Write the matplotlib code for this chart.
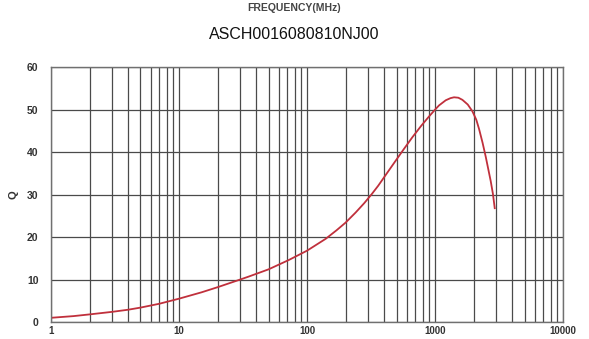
import matplotlib
matplotlib.use("Agg")
import matplotlib.pyplot as plt
from matplotlib.ticker import LogLocator, NullFormatter, FixedLocator, FixedFormatter

freq_mhz = [1, 1.5, 2, 3, 4, 5, 7, 10, 15, 20, 30, 35, 50, 72, 100, 140, 170, 200, 240, 280,
            320, 360, 420, 493, 570, 665, 780, 898, 1000, 1075, 1212, 1320, 1407, 1520, 1635,
            1800, 1958, 2100, 2208, 2350, 2488, 2620, 2720, 2830, 2925]
q_values = [1.0, 1.4, 1.8, 2.4, 2.9, 3.4, 4.3, 5.5, 7.0, 8.2, 10.0, 10.7, 12.4, 14.6, 16.8, 19.6,
            21.6, 23.4, 25.8, 28.0, 30.1, 32.1, 35.0, 38.0, 40.7, 43.5, 46.2, 48.4, 50.0, 51.0,
            52.2, 52.7, 52.9, 52.8, 52.3, 51.2, 49.6, 47.6, 45.4, 42.2, 38.9, 35.6, 33.2, 30.2, 26.8]
x_ticks = [1, 10, 100, 1000, 10000]
x_tick_labels = ["1", "10", "100", "1000", "10000"]
y_ticks = [0, 10, 20, 30, 40, 50, 60]

fig = plt.figure(figsize=(5.89, 3.39), dpi=100)
ax = fig.add_axes([0.0866, 0.050, 0.8694, 0.752])

ax.set_xscale("log")
ax.set_xlim(1, 10000)
ax.set_ylim(0, 60)
ax.plot(freq_mhz, q_values, color="#c0303c", lw=1.3, solid_joinstyle="round")

ax.xaxis.set_major_locator(FixedLocator(x_ticks))
ax.xaxis.set_major_formatter(FixedFormatter(x_tick_labels))
ax.xaxis.set_minor_locator(LogLocator(base=10, subs=range(2, 10)))
ax.xaxis.set_minor_formatter(NullFormatter())
ax.set_yticks(y_ticks)

ax.grid(True, which="major", color="#4a4a4a", lw=0.9)
ax.grid(True, which="minor", axis="x", color="#4a4a4a", lw=0.9)
for s in ax.spines.values():
    s.set_color("#707070")
    s.set_linewidth(1.0)
ax.tick_params(which="both", length=0)
ax.tick_params(axis="y", pad=9, labelsize=7.5, labelcolor="#333333")
ax.tick_params(axis="x", pad=3, labelsize=7, labelcolor="#333333")
for lab in ax.get_xticklabels() + ax.get_yticklabels():
    lab.set_fontweight("bold")
    lab.set_family("Liberation Sans")

ax.set_ylabel("Q", fontsize=8, fontweight="bold", rotation=90, labelpad=6, color="#333333",
              family="Liberation Sans")

fig.text(0.5, 0.975, "FREQUENCY(MHz)", ha="center", va="center", fontsize=7.5,
         fontweight="bold", color="#444444", family="Liberation Sans")
fig.text(0.5, 0.898, "ASCH0016080810NJ00", ha="center", va="center", fontsize=11.5,
         color="#111111", family="Liberation Sans")

fig.savefig("out.png", dpi=100)
